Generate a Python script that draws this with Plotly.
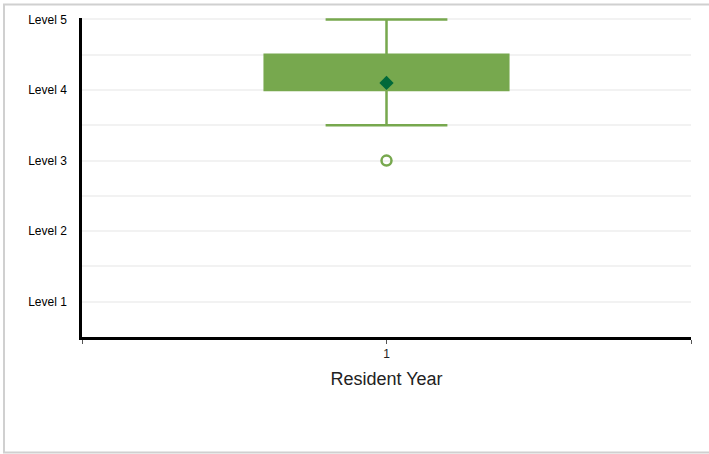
import plotly.graph_objects as go

# Data
categories = [1]
q1 = [4.0]
median = [4.0]
q3 = [4.5]
lower_fence = [3.5]
upper_fence = [5.0]
means = [4.1]
outliers = [3.0]
y_tick_vals = [1, 1.5, 2, 2.5, 3, 3.5, 4, 4.5, 5]
y_tick_text = ["Level 1", "", "Level 2", "", "Level 3", "", "Level 4", "", "Level 5"]
x_tick_vals = [0.5, 1, 1.5]
x_tick_text = ["", "1", ""]

GREEN = "#77a84e"
DARK = "#00693a"

fig = go.Figure()
fig.add_trace(go.Box(
    x=categories, q1=q1, median=median, q3=q3,
    lowerfence=lower_fence, upperfence=upper_fence,
    fillcolor=GREEN, line=dict(color=GREEN, width=2.5),
    width=0.4, whiskerwidth=0.5, boxpoints=False, showlegend=False,
    hoverinfo="skip",
))
fig.add_trace(go.Scatter(
    x=categories, y=means, mode="markers",
    marker=dict(symbol="diamond", size=11, color=DARK),
    showlegend=False,
))
fig.add_trace(go.Scatter(
    x=categories * len(outliers), y=outliers, mode="markers",
    marker=dict(symbol="circle-open", size=10, color=GREEN, line=dict(width=2.5)),
    showlegend=False,
))

fig.update_layout(
    width=709, height=454,
    margin=dict(l=82, r=18, t=18, b=117),
    paper_bgcolor="white", plot_bgcolor="white",
    font=dict(family="Liberation Sans, Arial, sans-serif", color="black"),
    xaxis=dict(
        range=[0.5, 1.5], tickvals=x_tick_vals, ticktext=x_tick_text,
        showgrid=False, zeroline=False,
        showline=True, linecolor="black", linewidth=2.5,
        ticks="outside", ticklen=4, tickwidth=1, tickcolor="#555",
        tickfont=dict(size=12, color="#222"),
        title=dict(text="Resident Year", font=dict(size=18, color="#222"), standoff=13),
    ),
    yaxis=dict(
        range=[0.5, 5.02], tickvals=y_tick_vals, ticktext=y_tick_text,
        showgrid=True, gridcolor="#f2f2f2", gridwidth=2,
        zeroline=False,
        showline=True, linecolor="black", linewidth=2.5,
        ticks="", ticklabelstandoff=10,
        tickfont=dict(size=12, color="black"),
    ),
    shapes=[dict(
        type="rect", xref="paper", yref="paper",
        x0=(4 - 82) / 609, x1=(712 - 82) / 609,
        y0=(337 - 452.5) / 319, y1=(337 - 4.5) / 319,
        line=dict(color="#d0d0d0", width=2), fillcolor="rgba(0,0,0,0)",
        layer="below",
    )],
)

fig.write_html("out.html", config={"displayModeBar": False},
               post_script="document.body.style.margin='0';")
